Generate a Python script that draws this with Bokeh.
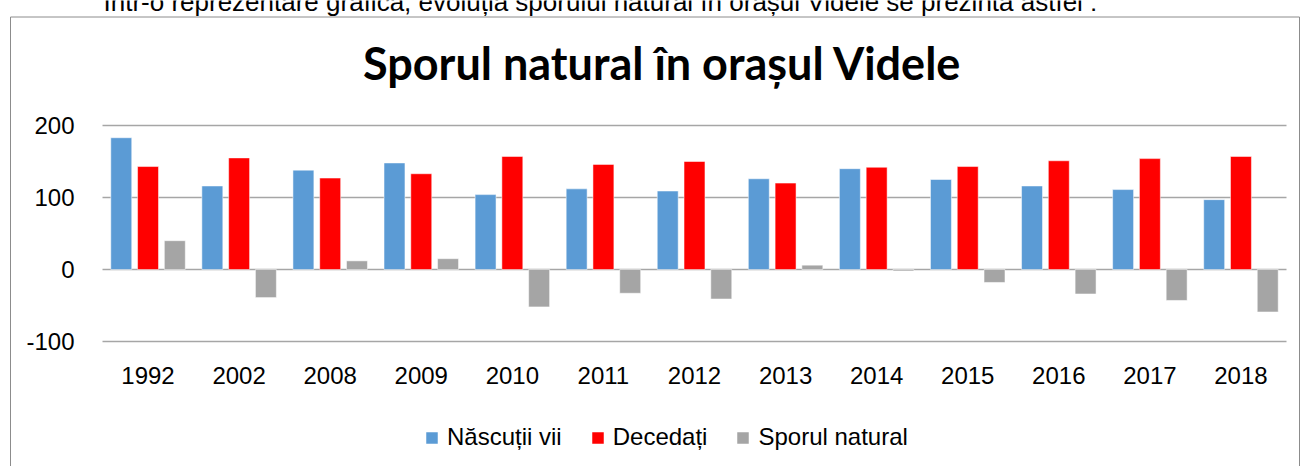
from bokeh.plotting import figure
from bokeh.models import (Range1d, FixedTicker, Legend, LegendItem, Label,
                          BoxAnnotation, ColumnDataSource)
from bokeh.transform import dodge
from bokeh.embed import file_html
from bokeh.resources import INLINE

# ---- data ----
years = ["1992", "2002", "2008", "2009", "2010", "2011", "2012",
         "2013", "2014", "2015", "2016", "2017", "2018"]
nascuti_vii = [183, 116, 138, 148, 104, 112, 109, 126, 140, 125, 116, 111, 97]
decedati = [143, 155, 127, 133, 157, 146, 150, 120, 142, 143, 151, 154, 157]
sporul_natural = [40, -39, 12, 15, -52, -33, -41, 6, -2, -18, -34, -43, -59]
y_ticks = [-100, 0, 100, 200]
y_tick_labels = ["-100", "0", "100", "200"]
series_names = ["Născuții vii", "Decedați", "Sporul natural"]
title_text = "Sporul natural în orașul Videle"
header_text = ("Într-o reprezentare grafică, evoluția sporului natural în orașul "
               "Videle se prezintă astfel :")

FONT = "Liberation Sans"
BLUE, RED, GREY = "#5B9BD5", "#FF0000", "#A5A5A5"
BOX = "#8c8c8c"

# ---- geometry of the drawing (pixels) ----
W, H = 1307, 466
FL, FR, FT, FB = 9, 1300, 0, 466          # frame = chart box region
PL, PR, PT, PB = 102, 1286, 125, 341       # plotting area (gridlines)
n = len(years)
ymin, ymax = y_ticks[0], y_ticks[-1]
ux = (PR - PL) / n                          # px per category
uy = (PB - PT) / (ymax - ymin)              # px per value unit

def xd(px):  # page x -> data x
    return (px - PL) / ux

def yd(py):  # page y -> data y
    return ymax + (PT - py) / uy

xc = [i + 0.5 for i in range(n)]
src = ColumnDataSource(dict(x=xc, n=nascuti_vii, d=decedati, s=sporul_natural))

p = figure(width=W, height=H,
           x_range=Range1d(xd(FL), xd(FR)), y_range=Range1d(yd(FB), yd(FT)),
           output_backend="svg", toolbar_location=None,
           min_border_left=FL, min_border_right=W - FR,
           min_border_top=FT, min_border_bottom=H - FB)
p.outline_line_color = None
p.background_fill_color = "white"
p.border_fill_color = "white"

bw = 0.23
off = 0.294
r1 = p.vbar(x=dodge("x", -off), top="n", bottom=0, width=bw, source=src,
            fill_color=BLUE, line_color="white", line_alpha=0.5, line_width=1)
r2 = p.vbar(x=dodge("x", 0.0), top="d", bottom=0, width=bw, source=src,
            fill_color=RED, line_color="white", line_alpha=0.5, line_width=1)
r3 = p.vbar(x=dodge("x", off), top="s", bottom=0, width=bw, source=src,
            fill_color=GREY, line_color="white", line_alpha=0.5, line_width=1)

# horizontal gridlines, limited to the plotting area
p.xgrid.visible = False
p.ygrid.ticker = FixedTicker(ticks=y_ticks)
p.ygrid.cross_bounds = (0, n)
p.ygrid.grid_line_color = "#a6a6a6"
p.ygrid.grid_line_width = 1.5
p.ygrid.level = "underlay"

# y axis drawn at the left edge of the plotting area
p.yaxis.fixed_location = 0
p.yaxis.ticker = FixedTicker(ticks=y_ticks)
p.yaxis.major_label_overrides = {t: s for t, s in zip(y_ticks, y_tick_labels)}
p.yaxis.axis_line_color = None
p.yaxis.major_tick_line_color = None
p.yaxis.minor_tick_line_color = None
p.yaxis.major_tick_out = 0
p.yaxis.major_tick_in = 0
p.yaxis.major_label_standoff = 28
p.yaxis.major_label_text_font = FONT
p.yaxis.major_label_text_font_size = "24px"
p.yaxis.major_label_text_color = "black"

# x axis drawn at the bottom of the plotting area, labelled with the years
p.xaxis.fixed_location = ymin
p.xaxis.ticker = FixedTicker(ticks=xc)
p.xaxis.major_label_overrides = {x: y for x, y in zip(xc, years)}
p.xaxis.axis_line_color = None
p.xaxis.major_tick_line_color = None
p.xaxis.minor_tick_line_color = None
p.xaxis.major_tick_out = 0
p.xaxis.major_tick_in = 0
p.xaxis.major_label_standoff = 25
p.xaxis.major_label_text_font = FONT
p.xaxis.major_label_text_font_size = "24px"
p.xaxis.major_label_text_color = "black"

# legend
legend = Legend(items=[LegendItem(label=series_names[0], renderers=[r1]),
                       LegendItem(label=series_names[1], renderers=[r2]),
                       LegendItem(label=series_names[2], renderers=[r3])],
                orientation="horizontal", location=(424 - FL, FB - 451),
                padding=0, margin=0, spacing=28, label_standoff=8,
                glyph_width=15, glyph_height=15,
                border_line_color=None, background_fill_alpha=0,
                label_text_font=FONT, label_text_font_size="24px", label_text_color="black")
p.add_layout(legend, "center")

# chart title
p.add_layout(Label(x=xd(662), y=yd(62), text=title_text,
                   text_font="Lato", text_font_style="bold", text_font_size="45px",
                   text_align="center", text_baseline="alphabetic", text_color="black"))

# header line of the page, cut off at the top like in the reference
p.add_layout(Label(x=xd(103), y=yd(1), text=header_text,
                   text_font=FONT, text_font_size="26px", text_align="left",
                   text_baseline="alphabetic", text_color="black"))

# chart box (bottom edge lies below the window)
p.add_layout(BoxAnnotation(left=xd(10), right=xd(1299), top=yd(16.5), bottom=yd(H + 40),
                           fill_color=None, fill_alpha=0, line_color=BOX,
                           line_alpha=1, line_width=1))

open("out.html", "w").write(file_html(p, INLINE))
